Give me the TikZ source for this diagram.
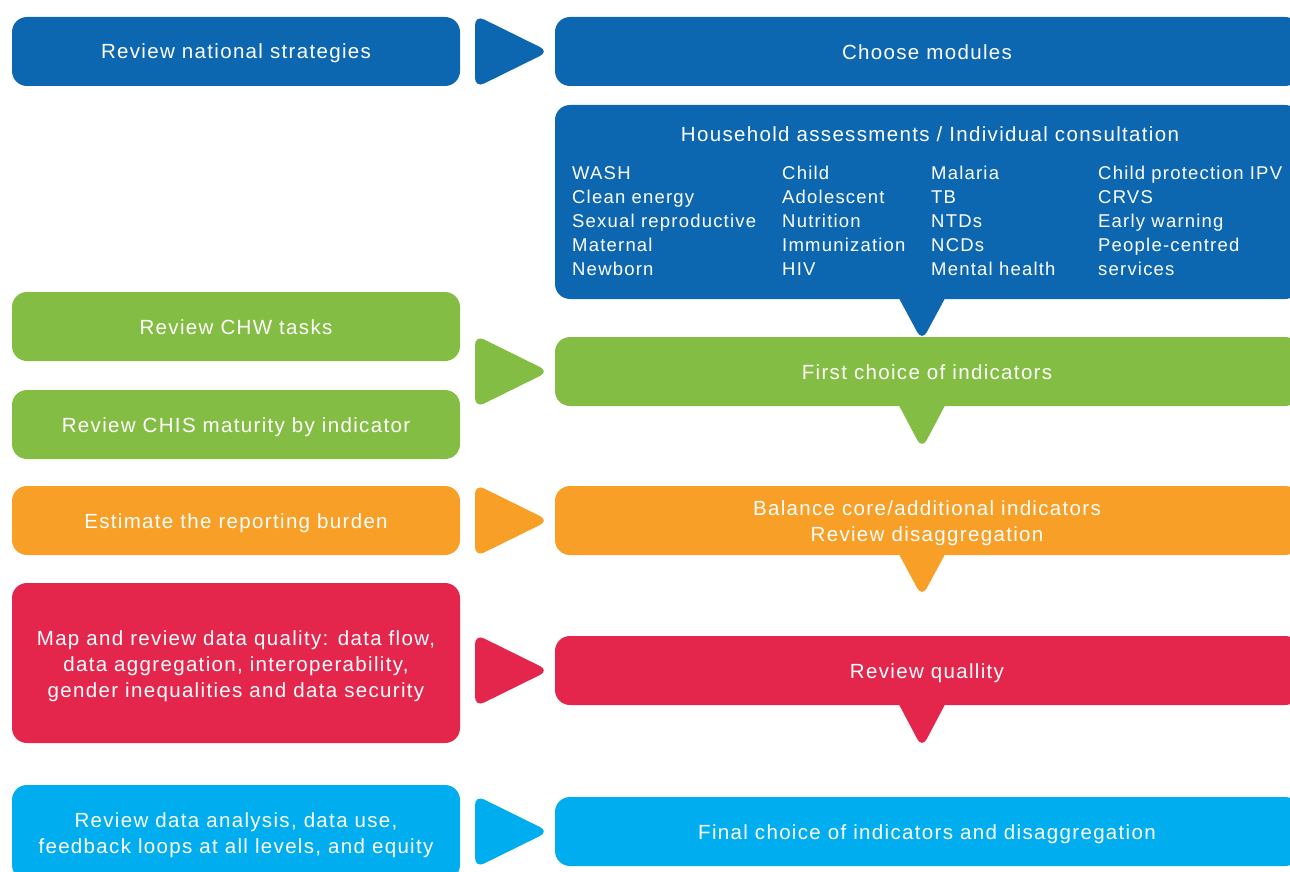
\documentclass[tikz,border=0pt]{standalone}
\usepackage{fontspec}
\setmainfont{Liberation Sans}[LetterSpace=6.5]
\definecolor{cblue}{HTML}{0C66B0}
\definecolor{cgreen}{HTML}{84BD43}
\definecolor{corange}{HTML}{F89F27}
\definecolor{cred}{HTML}{E4264D}
\definecolor{clblue}{HTML}{00AEEF}
\begin{document}
\begin{tikzpicture}[x=1pt,y=-1pt]
\tikzset{
  box/.style={rounded corners=15pt, inner sep=0pt},
  lbox/.style={box, minimum width=448pt},
  rbox/.style={box, minimum width=745pt},
  tri/.style={rounded corners=10pt},
  one/.style={text=white, font=\fontsize{20.5}{26}\selectfont, inner sep=0pt,
    text height=15pt, text depth=0pt},
  multi/.style={text=white, font=\fontsize{20.5}{26}\selectfont, inner sep=0pt, align=center},
  itm/.style={text=white, font=\fontsize{18.5}{24}\selectfont, align=left, inner sep=0pt, anchor=north west},
}
\useasboundingbox (0,0) rectangle (1290,872);
\clip (0,0) rectangle (1290,872);

% row 1
\node[lbox, fill=cblue, minimum height=69pt] (rns) at (236,51.5) {};
\node[one] (rnst) at (rns) {Review national strategies};
\node[rbox, fill=cblue, minimum height=69pt] (cm) at (927.5,51.5) {};
\node[one] (cmt) at (927,52) {Choose modules};
\fill[cblue, tri] (475,15) -- (549,51.5) -- (475,88) -- cycle;

% household box
\node[rbox, fill=cblue, minimum height=194pt] (hh) at (927.5,202) {};
\node[one] (hht) at (930,134) {Household assessments / Individual consultation};
\node[itm] (c1) at (572,166) {WASH\\Clean energy\\Sexual reproductive\\Maternal\\Newborn};
\node[itm] (c2) at (782,166) {Child\\Adolescent\\Nutrition\\Immunization\\HIV};
\node[itm] (c3) at (931,166) {Malaria\\TB\\NTDs\\NCDs\\Mental health};
\node[itm] (c4) at (1098,166) {Child protection IPV\\CRVS\\Early warning\\People-centred\\services};
\fill[cblue, tri] (894,289) -- (922,341) -- (950,289) -- cycle;

% green
\node[lbox, fill=cgreen, minimum height=69pt] (chw) at (236,326.5) {};
\node[one] (chwt) at (236,327) {Review CHW tasks};
\node[lbox, fill=cgreen, minimum height=69pt] (chis) at (236,424.5) {};
\node[one] (chist) at (236,425) {Review CHIS maturity by indicator};
\node[rbox, fill=cgreen, minimum height=69pt] (fci) at (927.5,371.5) {};
\node[one] (fcit) at (927,372) {First choice of indicators};
\fill[cgreen, tri] (475,335) -- (549,371.5) -- (475,408) -- cycle;
\fill[cgreen, tri] (894,396) -- (922,449) -- (950,396) -- cycle;

% orange
\node[lbox, fill=corange, minimum height=69pt] (erb) at (236,520.5) {};
\node[one] (erbt) at (236,521) {Estimate the reporting burden};
\node[rbox, fill=corange, minimum height=69pt] (bal) at (927.5,520.5) {};
\node[multi] (balt) at (927,523.5) {Balance core/additional indicators\\Review disaggregation};
\fill[corange, tri] (475,484) -- (549,520.5) -- (475,557) -- cycle;
\fill[corange, tri] (894,545) -- (922,597) -- (950,545) -- cycle;

% red
\node[lbox, fill=cred, minimum height=160pt] (map) at (236,663) {};
\node[multi] (mapt) at (236,666) {Map and review data quality: data flow,\\data aggregation, interoperability,\\gender inequalities and data security};
\node[rbox, fill=cred, minimum height=69pt] (rq) at (927.5,670.5) {};
\node[one] (rqt) at (927,671) {Review quallity};
\fill[cred, tri] (475,634) -- (549,670.5) -- (475,707) -- cycle;
\fill[cred, tri] (894,695) -- (922,748) -- (950,695) -- cycle;

% light blue
\node[lbox, fill=clblue, minimum height=95pt] (rda) at (236,832.5) {};
\node[multi] (rdat) at (236,835.5) {Review data analysis, data use,\\feedback loops at all levels, and equity};
\node[rbox, fill=clblue, minimum height=69pt] (fin) at (927.5,831.5) {};
\node[one] (fint) at (927,832) {Final choice of indicators and disaggregation};
\fill[clblue, tri] (475,795) -- (549,831.5) -- (475,868) -- cycle;
\end{tikzpicture}
\end{document}
